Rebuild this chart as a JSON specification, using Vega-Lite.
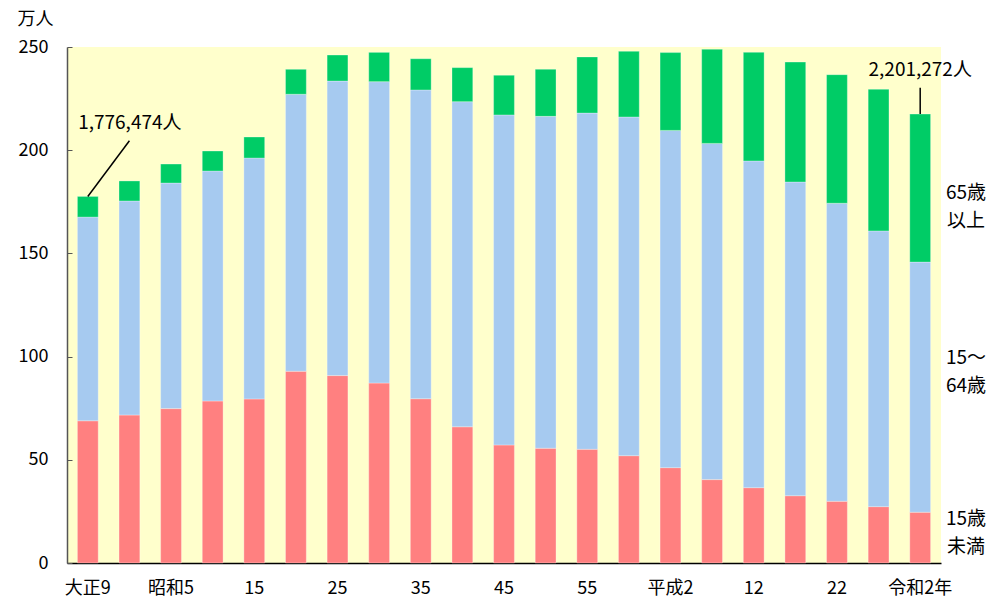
{
  "$schema": "https://vega.github.io/schema/vega-lite/v6.json",
  "width": 874,
  "height": 516,
  "autosize": {"type": "none"},
  "padding": {"left": 67, "top": 47, "right": 50, "bottom": 38},
  "background": "white",
  "config": {
    "view": {"fill": "#FFFFCC", "stroke": null},
    "font": "Noto Sans CJK JP",
    "axisY": {
      "grid": false,
      "domainColor": "#555555",
      "domainWidth": 1.5,
      "tickColor": "#555555",
      "tickSize": -5,
      "labelPadding": 24,
      "labelFontSize": 18,
      "labelColor": "#000000",
      "titleAngle": 0,
      "titleAlign": "left",
      "titleBaseline": "middle",
      "titleX": -50,
      "titleY": -28,
      "titleFontSize": 18,
      "titleFontWeight": "normal",
      "titleColor": "#000000"
    },
    "axisX": {
      "domainColor": "#000000",
      "domainWidth": 1.5,
      "ticks": false,
      "labelAngle": 0,
      "labelPadding": 16,
      "labelFontSize": 18,
      "labelColor": "#000000",
      "title": null
    }
  },
  "datasets": {
    "pop": [
      {"year": "大正9", "c1": 68.9, "c2": 98.7, "c3": 10.0},
      {"year": "大正14", "c1": 71.7, "c2": 103.7, "c3": 9.7},
      {"year": "昭和5", "c1": 74.8, "c2": 109.3, "c3": 9.2},
      {"year": "昭和10", "c1": 78.5, "c2": 111.4, "c3": 9.7},
      {"year": "昭和15", "c1": 79.5, "c2": 116.7, "c3": 10.2},
      {"year": "昭和22", "c1": 92.9, "c2": 134.2, "c3": 12.1},
      {"year": "昭和25", "c1": 90.8, "c2": 142.7, "c3": 12.6},
      {"year": "昭和30", "c1": 87.2, "c2": 146.0, "c3": 14.2},
      {"year": "昭和35", "c1": 79.6, "c2": 149.6, "c3": 15.1},
      {"year": "昭和40", "c1": 66.0, "c2": 157.5, "c3": 16.5},
      {"year": "昭和45", "c1": 57.2, "c2": 159.9, "c3": 19.2},
      {"year": "昭和50", "c1": 55.6, "c2": 160.8, "c3": 22.8},
      {"year": "昭和55", "c1": 55.1, "c2": 162.9, "c3": 27.2},
      {"year": "昭和60", "c1": 52.0, "c2": 164.1, "c3": 31.8},
      {"year": "平成2", "c1": 46.2, "c2": 163.4, "c3": 37.7},
      {"year": "平成7", "c1": 40.4, "c2": 162.9, "c3": 45.6},
      {"year": "平成12", "c1": 36.5, "c2": 158.3, "c3": 52.6},
      {"year": "平成17", "c1": 32.6, "c2": 152.0, "c3": 58.1},
      {"year": "平成22", "c1": 29.9, "c2": 144.4, "c3": 62.3},
      {"year": "平成27", "c1": 27.3, "c2": 133.6, "c3": 68.6},
      {"year": "令和2", "c1": 24.6, "c2": 121.2, "c3": 71.7}
    ],
    "lines": [
      {"x1": 0.5, "y1": 177.6, "x2": 1.5, "y2": 204.6},
      {"x1": 20.5, "y1": 217.5, "x2": 20.5, "y2": 230.3}
    ],
    "notes": [
      {"x": 1.51, "y": 213.2, "t": "1,776,474人"},
      {"x": 20.5, "y": 238.9, "t": "2,201,272人"},
      {"x": 21.6, "y": 179.5, "t": "65歳\n以上"},
      {"x": 21.6, "y": 99.3, "t": "15～\n64歳"},
      {"x": 21.6, "y": 21.3, "t": "15歳\n未満"}
    ]
  },
  "layer": [
    {
      "data": {"name": "pop"},
      "transform": [{"fold": ["c1", "c2", "c3"], "as": ["grp", "val"]}],
      "mark": {"type": "bar", "stroke": "#ffffff", "strokeWidth": 0.6, "strokeOpacity": 0.5},
      "encoding": {
        "x": {
          "field": "year",
          "type": "nominal",
          "sort": null,
          "scale": {"paddingInner": 0.5, "paddingOuter": 0.25},
          "axis": {
            "labelExpr": "datum.value=='大正9'?'大正9':datum.value=='昭和5'?'昭和5':datum.value=='昭和15'?'15':datum.value=='昭和25'?'25':datum.value=='昭和35'?'35':datum.value=='昭和45'?'45':datum.value=='昭和55'?'55':datum.value=='平成2'?'平成2':datum.value=='平成12'?'12':datum.value=='平成22'?'22':datum.value=='令和2'?'令和2年':''"
          }
        },
        "y": {
          "field": "val",
          "type": "quantitative",
          "stack": "zero",
          "title": "万人",
          "scale": {"domain": [0, 250], "nice": false},
          "axis": {"values": [0, 50, 100, 150, 200, 250]}
        },
        "color": {
          "field": "grp",
          "type": "nominal",
          "scale": {"domain": ["c1", "c2", "c3"], "range": ["#FF8080", "#A6CAF0", "#00CC66"]},
          "legend": null
        },
        "order": {"field": "grp", "sort": "ascending"}
      }
    },
    {
      "data": {"name": "lines"},
      "mark": {"type": "rule", "color": "#000000", "strokeWidth": 1.5},
      "encoding": {
        "x": {"field": "x1", "type": "quantitative", "scale": {"domain": [0, 21], "nice": false, "zero": false}, "axis": null},
        "x2": {"field": "x2"},
        "y": {"field": "y1", "type": "quantitative", "title": "万人", "scale": {"domain": [0, 250], "nice": false}, "axis": {"values": [0, 50, 100, 150, 200, 250]}},
        "y2": {"field": "y2"}
      }
    },
    {
      "data": {"name": "notes"},
      "mark": {"type": "text", "fontSize": 19, "align": "center", "baseline": "middle", "lineBreak": "\n", "lineHeight": 28, "color": "#000000"},
      "encoding": {
        "x": {"field": "x", "type": "quantitative", "scale": {"domain": [0, 21], "nice": false, "zero": false}, "axis": null},
        "y": {"field": "y", "type": "quantitative", "title": "万人", "scale": {"domain": [0, 250], "nice": false}, "axis": {"values": [0, 50, 100, 150, 200, 250]}},
        "text": {"field": "t"}
      }
    }
  ],
  "resolve": {"scale": {"x": "independent"}}
}
